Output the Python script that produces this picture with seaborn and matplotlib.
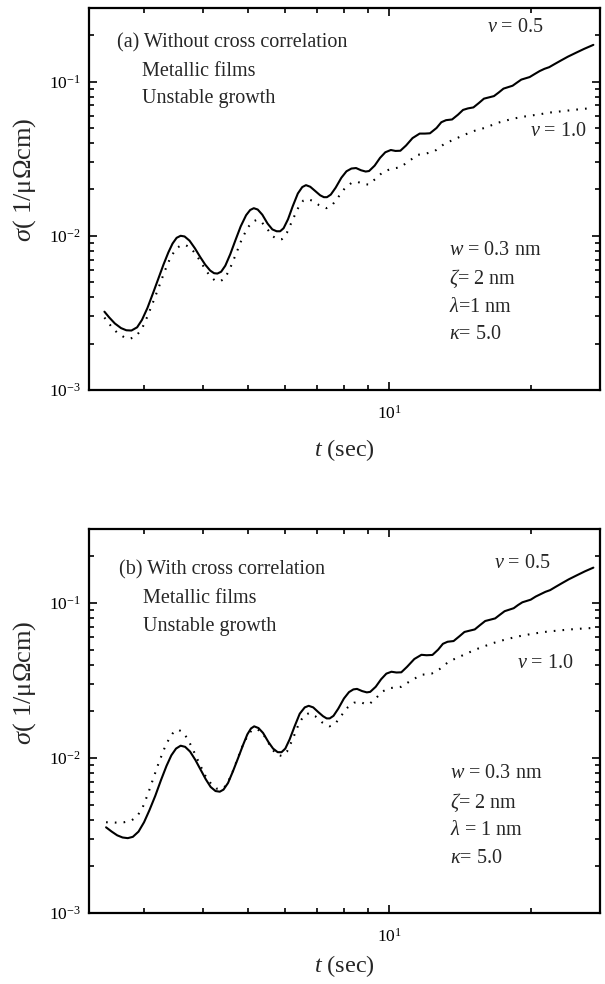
import numpy as np
import pandas as pd
import matplotlib
matplotlib.use("Agg")
import matplotlib.pyplot as plt
import seaborn as sns
from matplotlib.ticker import LogLocator, NullFormatter

# ---------------- data ----------------
ta_solid = [2.47, 2.53, 2.60, 2.68, 2.75, 2.82, 2.90, 2.97, 3.05, 3.14, 3.22, 3.30, 3.38, 3.45, 3.52,
            3.59, 3.66, 3.75, 3.85, 3.95, 4.05, 4.15, 4.23, 4.30, 4.38, 4.47, 4.58, 4.70, 4.82, 4.95,
            5.05, 5.14, 5.24, 5.36, 5.50, 5.63, 5.75, 5.85, 5.95, 6.08, 6.22, 6.38, 6.52, 6.64, 6.78,
            6.95, 7.12, 7.25, 7.36, 7.50, 7.68, 7.90, 8.10, 8.30, 8.49, 8.70, 8.90, 9.05, 9.30, 9.55,
            9.80, 10.07, 10.30, 10.55, 10.85, 11.2, 11.6, 11.9, 12.2, 12.6, 12.9, 13.2, 13.6, 14.0,
            14.35, 14.7, 15.1, 15.5, 15.9, 16.3, 16.7, 17.1, 17.5, 17.9, 18.3, 18.7, 19.1, 19.5, 19.9,
            20.4, 20.9, 21.4, 21.9, 22.5, 23.2, 24.0, 25.0, 26.0, 27.2]
sa_solid = [3.22e-3, 2.95e-3, 2.70e-3, 2.52e-3, 2.44e-3, 2.43e-3, 2.55e-3, 2.85e-3, 3.4e-3, 4.3e-3,
            5.3e-3, 6.5e-3, 7.8e-3, 8.9e-3, 9.7e-3, 1.0e-2, 9.9e-3, 9.3e-3, 8.3e-3, 7.3e-3, 6.5e-3,
            5.95e-3, 5.72e-3, 5.69e-3, 5.85e-3, 6.4e-3, 7.6e-3, 9.4e-3, 1.15e-2, 1.36e-2, 1.47e-2,
            1.51e-2, 1.48e-2, 1.37e-2, 1.2e-2, 1.1e-2, 1.07e-2, 1.07e-2, 1.12e-2, 1.28e-2, 1.55e-2,
            1.88e-2, 2.07e-2, 2.13e-2, 2.08e-2, 1.95e-2, 1.83e-2, 1.78e-2, 1.78e-2, 1.85e-2, 2.05e-2,
            2.38e-2, 2.62e-2, 2.73e-2, 2.75e-2, 2.66e-2, 2.61e-2, 2.63e-2, 2.85e-2, 3.2e-2, 3.48e-2,
            3.6e-2, 3.55e-2, 3.56e-2, 3.85e-2, 4.3e-2, 4.6e-2, 4.6e-2, 4.62e-2, 5.0e-2, 5.45e-2,
            5.62e-2, 5.68e-2, 6.1e-2, 6.55e-2, 6.7e-2, 6.8e-2, 7.25e-2, 7.75e-2, 7.9e-2, 8.05e-2,
            8.5e-2, 9.0e-2, 9.2e-2, 9.4e-2, 9.85e-2, 0.103, 0.105, 0.107, 0.112, 0.117, 0.121, 0.124,
            0.130, 0.137, 0.145, 0.154, 0.163, 0.173]
ta_dot = [2.47, 2.55, 2.63, 2.72, 2.80, 2.88, 2.97, 3.05, 3.14, 3.23, 3.32, 3.42, 3.52, 3.60, 3.68,
          3.78, 3.90, 4.02, 4.14, 4.25, 4.36, 4.46, 4.57, 4.70, 4.84, 4.98, 5.10, 5.22, 5.35, 5.50,
          5.65, 5.77, 5.90, 6.05, 6.22, 6.40, 6.55, 6.70, 6.88, 7.08, 7.34, 7.55, 7.80, 8.05, 8.30,
          8.55, 8.80, 9.05, 9.35, 9.70, 10.1, 10.55, 11.0, 11.5, 12.0, 12.5, 13.1, 13.7, 14.4, 15.2,
          16.0, 17.0, 18.3, 19.5, 20.8, 22.0, 23.4, 25.0, 27.2]
sa_dot = [2.95e-3, 2.6e-3, 2.35e-3, 2.2e-3, 2.15e-3, 2.22e-3, 2.5e-3, 3.0e-3, 3.75e-3, 4.7e-3, 5.9e-3,
          7.3e-3, 8.3e-3, 8.7e-3, 8.7e-3, 8.3e-3, 7.3e-3, 6.3e-3, 5.5e-3, 5.12e-3, 5.07e-3, 5.3e-3,
          6.1e-3, 7.5e-3, 9.4e-3, 1.12e-2, 1.23e-2, 1.27e-2, 1.22e-2, 1.1e-2, 9.9e-3, 9.5e-3, 9.5e-3,
          1.05e-2, 1.27e-2, 1.53e-2, 1.69e-2, 1.73e-2, 1.68e-2, 1.58e-2, 1.51e-2, 1.58e-2, 1.8e-2,
          2.05e-2, 2.2e-2, 2.24e-2, 2.16e-2, 2.15e-2, 2.35e-2, 2.6e-2, 2.72e-2, 2.78e-2, 3.05e-2,
          3.35e-2, 3.42e-2, 3.55e-2, 3.95e-2, 4.2e-2, 4.5e-2, 4.8e-2, 5.02e-2, 5.4e-2, 5.74e-2,
          5.95e-2, 6.12e-2, 6.3e-2, 6.43e-2, 6.58e-2, 6.75e-2]

tb_solid = [2.49, 2.56, 2.63, 2.70, 2.77, 2.84, 2.92, 3.00, 3.08, 3.17, 3.26, 3.35, 3.43, 3.51, 3.59,
            3.67, 3.76, 3.86, 3.96, 4.06, 4.16, 4.26, 4.35, 4.43, 4.53, 4.64, 4.76, 4.88, 4.98, 5.07,
            5.15, 5.26, 5.38, 5.52, 5.65, 5.78, 5.89, 6.00, 6.13, 6.28, 6.44, 6.60, 6.73, 6.88, 7.05,
            7.22, 7.35, 7.46, 7.60, 7.78, 8.00, 8.20, 8.38, 8.53, 8.75, 8.95, 9.10, 9.35, 9.60, 9.85,
            10.1, 10.35, 10.6, 10.9, 11.3, 11.7, 12.0, 12.35, 12.7, 13.0, 13.3, 13.7, 14.1, 14.45,
            14.8, 15.2, 15.6, 16.0, 16.4, 16.8, 17.2, 17.6, 18.0, 18.4, 18.8, 19.2, 19.6, 20.0, 20.5,
            21.0, 21.5, 22.0, 22.6, 23.3, 24.1, 25.1, 26.1, 27.2]
sb_solid = [3.57e-3, 3.35e-3, 3.17e-3, 3.07e-3, 3.04e-3, 3.1e-3, 3.35e-3, 3.85e-3, 4.6e-3, 5.7e-3,
            7.2e-3, 8.9e-3, 1.04e-2, 1.15e-2, 1.2e-2, 1.18e-2, 1.1e-2, 9.7e-3, 8.4e-3, 7.3e-3, 6.5e-3,
            6.12e-3, 6.06e-3, 6.25e-3, 6.9e-3, 8.2e-3, 1.0e-2, 1.22e-2, 1.42e-2, 1.55e-2, 1.6e-2,
            1.56e-2, 1.45e-2, 1.27e-2, 1.15e-2, 1.09e-2, 1.09e-2, 1.15e-2, 1.32e-2, 1.6e-2, 1.93e-2,
            2.12e-2, 2.17e-2, 2.12e-2, 1.98e-2, 1.86e-2, 1.8e-2, 1.8e-2, 1.87e-2, 2.08e-2, 2.42e-2,
            2.66e-2, 2.77e-2, 2.79e-2, 2.7e-2, 2.65e-2, 2.67e-2, 2.88e-2, 3.22e-2, 3.5e-2, 3.6e-2,
            3.56e-2, 3.57e-2, 3.87e-2, 4.35e-2, 4.63e-2, 4.6e-2, 4.62e-2, 5.0e-2, 5.45e-2, 5.62e-2,
            5.68e-2, 6.1e-2, 6.5e-2, 6.62e-2, 6.75e-2, 7.2e-2, 7.65e-2, 7.8e-2, 7.95e-2, 8.4e-2,
            8.85e-2, 9.05e-2, 9.25e-2, 9.7e-2, 0.101, 0.103, 0.105, 0.110, 0.114, 0.118, 0.121, 0.127,
            0.134, 0.142, 0.151, 0.160, 0.169]
tb_dot = [2.49, 2.60, 2.72, 2.82, 2.90, 2.98, 3.06, 3.14, 3.22, 3.31, 3.40, 3.48, 3.55, 3.63, 3.72,
          3.82, 3.93, 4.05, 4.17, 4.28, 4.38, 4.48, 4.60, 4.73, 4.86, 4.98, 5.08, 5.18, 5.30, 5.45,
          5.60, 5.75, 5.90, 6.05, 6.22, 6.42, 6.58, 6.75, 6.95, 7.18, 7.45, 7.65, 7.90, 8.15, 8.40,
          8.62, 8.85, 9.05, 9.35, 9.65, 10.0, 10.6, 11.1, 11.7, 12.3, 12.8, 13.4, 14.0, 14.6, 15.5,
          16.6, 17.8, 19.0, 20.3, 21.6, 23.0, 25.0, 27.2]
sb_dot = [3.85e-3, 3.83e-3, 3.85e-3, 3.95e-3, 4.2e-3, 4.8e-3, 5.9e-3, 7.4e-3, 9.2e-3, 1.14e-2,
          1.35e-2, 1.49e-2, 1.52e-2, 1.47e-2, 1.32e-2, 1.12e-2, 9.3e-3, 7.7e-3, 6.8e-3, 6.35e-3,
          6.3e-3, 6.6e-3, 7.7e-3, 9.6e-3, 1.19e-2, 1.38e-2, 1.5e-2, 1.54e-2, 1.5e-2, 1.35e-2,
          1.16e-2, 1.05e-2, 1.03e-2, 1.1e-2, 1.32e-2, 1.68e-2, 1.88e-2, 1.95e-2, 1.86e-2, 1.7e-2,
          1.6e-2, 1.65e-2, 1.88e-2, 2.12e-2, 2.27e-2, 2.31e-2, 2.24e-2, 2.22e-2, 2.42e-2, 2.68e-2,
          2.82e-2, 2.88e-2, 3.15e-2, 3.44e-2, 3.5e-2, 3.75e-2, 4.2e-2, 4.45e-2, 4.72e-2, 5.1e-2,
          5.5e-2, 5.85e-2, 6.12e-2, 6.35e-2, 6.52e-2, 6.65e-2, 6.8e-2, 6.9e-2]

panel_titles = ["(a) Without cross correlation", "(b) With cross correlation"]
sub_lines = ["Metallic films", "Unstable growth"]
nu_labels = [r"$\nu$ = 0.5", r"$\nu$ = 1.0"]
param_a = [r"$w$ = 0.3 nm", r"$\zeta$= 2 nm", r"$\lambda$=1 nm", r"$\kappa$= 5.0"]
param_b = [r"$w$ = 0.3 nm", r"$\zeta$= 2 nm", r"$\lambda$ = 1 nm", r"$\kappa$= 5.0"]

# ---------------- style ----------------
sns.set_theme(style="ticks")
plt.rcParams["font.family"] = ["Liberation Serif", "DejaVu Serif"]
plt.rcParams["mathtext.fontset"] = "custom"
plt.rcParams["mathtext.rm"] = "Liberation Serif"
plt.rcParams["mathtext.it"] = "Liberation Serif:italic"
plt.rcParams["mathtext.bf"] = "Liberation Serif:bold"
plt.rcParams["axes.unicode_minus"] = False

fig = plt.figure(figsize=(6.05, 9.84), dpi=100)
W, H = 605, 984
axA = fig.add_axes([89 / W, 1 - 390 / H, 511 / W, 382 / H])
axB = fig.add_axes([89 / W, 1 - 913 / H, 511 / W, 384 / H])

def panel(ax, ts, ss, td, sd, title, params, pos, ylab_y, xlab_pad):
    df_s = pd.DataFrame({"t": ts, "s": ss})
    df_d = pd.DataFrame({"t": td, "s": sd})
    sns.lineplot(data=df_s, x="t", y="s", ax=ax, color="black", lw=1.5,
                 sort=False, estimator=None)
    sns.lineplot(data=df_d, x="t", y="s", ax=ax, color="black", lw=1.5,
                 sort=False, estimator=None, linestyle=(0, (0.8, 3.4)))
    ax.set_xscale("log")
    ax.set_yscale("log")
    ax.set_xlim(2.29, 28.1)
    ax.set_ylim(1e-3, 0.3)
    ax.xaxis.set_major_locator(LogLocator(base=10, numticks=10))
    ax.xaxis.set_minor_locator(LogLocator(base=10, subs=np.arange(2, 10), numticks=20))
    ax.xaxis.set_minor_formatter(NullFormatter())
    ax.yaxis.set_major_locator(LogLocator(base=10, numticks=10))
    ax.yaxis.set_minor_locator(LogLocator(base=10, subs=np.arange(2, 10), numticks=20))
    ax.yaxis.set_minor_formatter(NullFormatter())
    ax.tick_params(which="both", direction="in", top=True, right=True, colors="black",
                   labelsize=12.5, width=1.2)
    ax.tick_params(which="major", length=6, pad=6)
    ax.tick_params(axis="x", which="major", pad=11)
    ax.tick_params(which="minor", length=3.5)
    for sp in ax.spines.values():
        sp.set_visible(True)
        sp.set_linewidth(1.6)
        sp.set_color("black")
    ax.set_xlabel(r"$t$ (sec)", fontsize=17.5, labelpad=xlab_pad)
    ax.set_ylabel(r"$\sigma$( 1/μΩcm)", fontsize=19)
    ax.yaxis.set_label_coords(-0.10, ylab_y)
    ax.set_facecolor("white")
    tr = ax.transAxes
    fs = 14.5
    ax.text(pos["title"][0], pos["title"][1], title, transform=tr, fontsize=fs, va="center", ha="left")
    ax.text(pos["sub"][0], pos["sub"][1], sub_lines[0], transform=tr, fontsize=fs, va="center", ha="left")
    ax.text(pos["sub"][0], pos["sub"][2], sub_lines[1], transform=tr, fontsize=fs, va="center", ha="left")
    ax.text(pos["nu5"][0], pos["nu5"][1], nu_labels[0], transform=tr, fontsize=fs, va="center", ha="left")
    ax.text(pos["nu1"][0], pos["nu1"][1], nu_labels[1], transform=tr, fontsize=fs, va="center", ha="left")
    for p, yy in zip(params, pos["par"][1:]):
        ax.text(pos["par"][0], yy, p, transform=tr, fontsize=fs, va="center", ha="left")

panel(axA, ta_solid, sa_solid, ta_dot, sa_dot, panel_titles[0], param_a,
      {"title": (0.055, 0.908), "sub": (0.104, 0.835, 0.762), "nu5": (0.779, 0.948),
       "nu1": (0.863, 0.678), "par": (0.704, 0.366, 0.291, 0.217, 0.144)}, 0.55, 10)
panel(axB, tb_solid, sb_solid, tb_dot, sb_dot, panel_titles[1], param_b,
      {"title": (0.059, 0.893), "sub": (0.106, 0.820, 0.745), "nu5": (0.793, 0.911),
       "nu1": (0.838, 0.651), "par": (0.707, 0.362, 0.286, 0.214, 0.143)}, 0.60, 5)

fig.savefig("out.png", dpi=100, facecolor="white")
